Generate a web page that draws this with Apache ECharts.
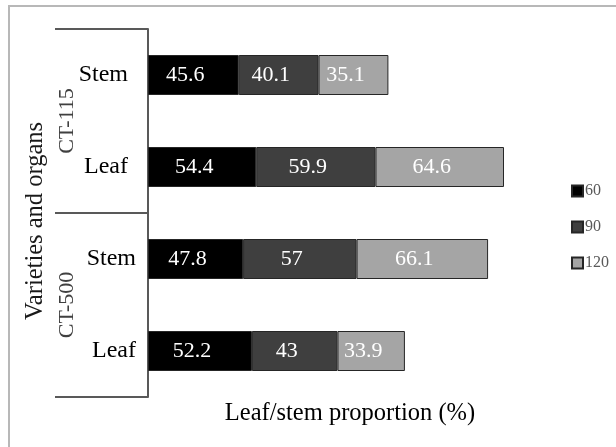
<!DOCTYPE html>
<html>
<head>
<meta charset="utf-8">
<script src="https://cdn.jsdelivr.net/npm/echarts@6.0.0/dist/echarts.min.js"></script>
<style>
html,body{margin:0;padding:0;background:#fff;}
#chart{width:616px;height:447px;}
</style>
</head>
<body>
<div id="chart"></div>
<script>
// Data (top to bottom)
const organs = ['Stem', 'Leaf', 'Stem', 'Leaf'];
const varieties = ['CT-115', 'CT-500'];
const seriesNames = ['60', '90', '120'];
const values60 = [45.6, 54.4, 47.8, 52.2];
const values90 = [40.1, 59.9, 57, 43];
const values120 = [35.1, 64.6, 66.1, 33.9];
const colors = ['#000000', '#3f3f3f', '#a5a5a5'];

const serif = '"Liberation Serif", "DejaVu Serif", serif';
const chart = echarts.init(document.getElementById('chart'), null, {renderer: 'canvas'});

function mkSeries(name, data, color) {
  return {
    name: name,
    type: 'bar',
    stack: 'total',
    barWidth: 40,
    data: data,
    itemStyle: {color: color, borderColor: '#262626', borderWidth: 1},
    label: {
      show: true,
      position: 'inside',
      offset: [-8, 0],
      color: '#ffffff',
      fontSize: 22,
      fontFamily: serif
    }
  };
}

chart.setOption({
  animation: false,
  backgroundColor: '#fff',
  grid: {left: 148, top: 29, bottom: 50, width: 398},
  legend: {
    orient: 'vertical',
    left: 566,
    top: 178,
    itemWidth: 11,
    itemHeight: 11,
    itemGap: 20,
    icon: 'rect',
    textStyle: {fontSize: 16, color: '#595959', fontFamily: serif, padding: [0, 0, 0, -3]},
    data: seriesNames
  },
  xAxis: {
    type: 'value',
    min: 0,
    max: 200,
    axisLine: {show: false},
    axisTick: {show: false},
    axisLabel: {show: false},
    splitLine: {show: false},
    name: 'Leaf/stem proportion (%)',
    nameLocation: 'middle',
    nameGap: 4,
    nameTextStyle: {fontSize: 24.5, color: '#000', fontFamily: serif, padding: [0, 0, 0, 6]}
  },
  yAxis: [
    {
      type: 'category',
      inverse: true,
      data: organs,
      axisLine: {show: false},
      axisTick: {show: false},
      axisLabel: {
        margin: 12,
        fontSize: 24,
        color: '#000',
        fontFamily: serif,
        formatter: function (v, i) { return i < 2 ? '{a|' + v + '}' : '{b|' + v + '}'; },
        rich: {
          a: {fontSize: 24, fontFamily: serif, color: '#000', padding: [0, 8, 0, 0]},
          b: {fontSize: 24, fontFamily: serif, color: '#000'}
        }
      }
    },
    {
      type: 'category',
      inverse: true,
      data: varieties,
      position: 'left',
      axisLine: {show: true, lineStyle: {color: '#595959', width: 2}},
      axisTick: {show: true, length: 93, interval: 0, lineStyle: {color: '#595959', width: 2}},
      axisLabel: {
        rotate: 90,
        margin: 70,
        fontSize: 22,
        color: '#404040',
        fontFamily: serif
      },
      name: 'Varieties and organs',
      nameLocation: 'middle',
      nameGap: 100,
      nameTextStyle: {fontSize: 24.5, color: '#1a1a1a', fontFamily: serif, padding: [0, 16, 0, 0]}
    }
  ],
  series: [
    mkSeries(seriesNames[0], values60, colors[0]),
    mkSeries(seriesNames[1], values90, colors[1]),
    mkSeries(seriesNames[2], values120, colors[2])
  ],
  graphic: [{
    type: 'rect',
    silent: true,
    shape: {x: 9, y: 6, width: 640, height: 470},
    style: {fill: 'none', stroke: '#b8b8b8', lineWidth: 2}
  }]
});
</script>
</body>
</html>
